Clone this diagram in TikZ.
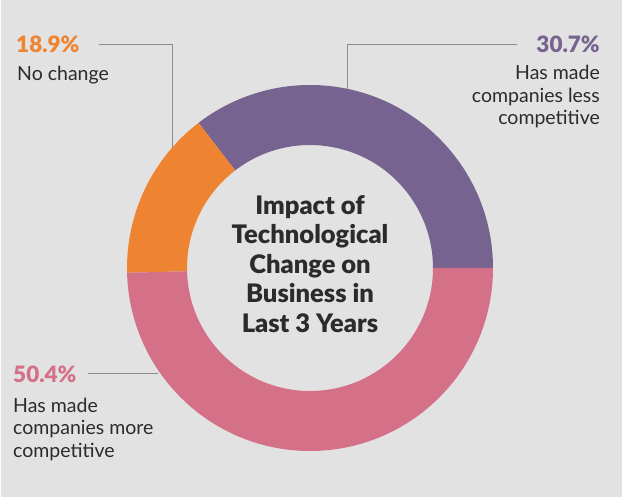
\documentclass[tikz,border=0pt]{standalone}
\usepackage{fontspec}
\setmainfont{Lato}
\IfFontExistsTF{Lato Black}{\newfontfamily\heavyfont{Lato Black}}{\newfontfamily\heavyfont{Lato}[UprightFont=*-Bold]}
\usepackage{xcolor}
\usepackage{tikz}
\usetikzlibrary{positioning}

\definecolor{bgGray}{HTML}{E2E2E2}
\definecolor{sliceOrange}{HTML}{EE8431}
\definecolor{slicePurple}{HTML}{77638F}
\definecolor{slicePink}{HTML}{D47189}
\definecolor{textDark}{HTML}{2B2B2B}
\definecolor{leaderGray}{HTML}{8C8C8C}

\tikzset{
  pct/.style={inner sep=0pt, font=\fontsize{22.5}{26}\selectfont\heavyfont},
  desc/.style={inner sep=0pt, text=textDark, font=\fontsize{19.5}{22.5}\selectfont},
  leader/.style={draw=leaderGray, line width=0.9pt},
}

% one slice of the ring: colour, start angle, end angle
\newcommand{\ringpart}[3]{%
  \fill[#1] ([shift={(#2:183)}]ctr) arc[start angle=#2, end angle=#3, radius=183]
    -- ([shift={(#3:123)}]ctr) arc[start angle=#3, end angle=#2, radius=123] -- cycle;}

\begin{document}
\begin{tikzpicture}[x=1pt, y=1pt]
        % Background
        \fill[white] (0,0) rectangle (622,499);
        \fill[bgGray] (1,2) rectangle (622,499);
        \useasboundingbox (0,0) rectangle (622,499);

        % Ring
        \coordinate (ctr) at (310,231);
        \ringpart{slicePurple}{0}{127.5}
        \ringpart{sliceOrange}{127.5}{181.5}
        \ringpart{slicePink}{181.5}{360}

        % Title in the middle (base = last line)
        \node[inner sep=0pt, align=center, text=textDark, font=\fontsize{25.5}{29.5}\selectfont\heavyfont, anchor=base] (title) at (310,167) {Impact of\\Technological\\Change on\\Business in\\Last 3 Years};

        % Labels
        \node[pct, text=sliceOrange, anchor=base west] (nochangepct) at (16,446) {18.9\%};
        \node[desc, anchor=base west] (nochangetxt) at (17,418) {No change};

        \node[pct, text=slicePurple, anchor=base east] (lesspct) at (600,446) {30.7\%};
        \node[desc, align=right, anchor=base east] (lesstxt) at (600,374) {Has made\\companies less\\competitive};

        \node[pct, text=slicePink, anchor=base west] (morepct) at (13,117) {50.4\%};
        \node[desc, align=left, anchor=base west] (moretxt) at (13,42) {Has made\\companies more\\competitive};

        % Leader ends on the ring
        \coordinate (nochangeend) at ([shift={(-138,120)}]ctr);
        \coordinate (lessend) at ([shift={(37,179)}]ctr);
        \coordinate (moreend) at ([shift={(-152,-102)}]ctr);

        % Leader lines
        \draw[leader] ([xshift=19pt]nochangepct.east) -| (nochangeend);
        \draw[leader] ([xshift=-19pt]lesspct.west) -| (lessend);
        \draw[leader] ([xshift=11pt]morepct.east) -- (morepct.east -| moreend);
    \end{tikzpicture}
\end{document}
